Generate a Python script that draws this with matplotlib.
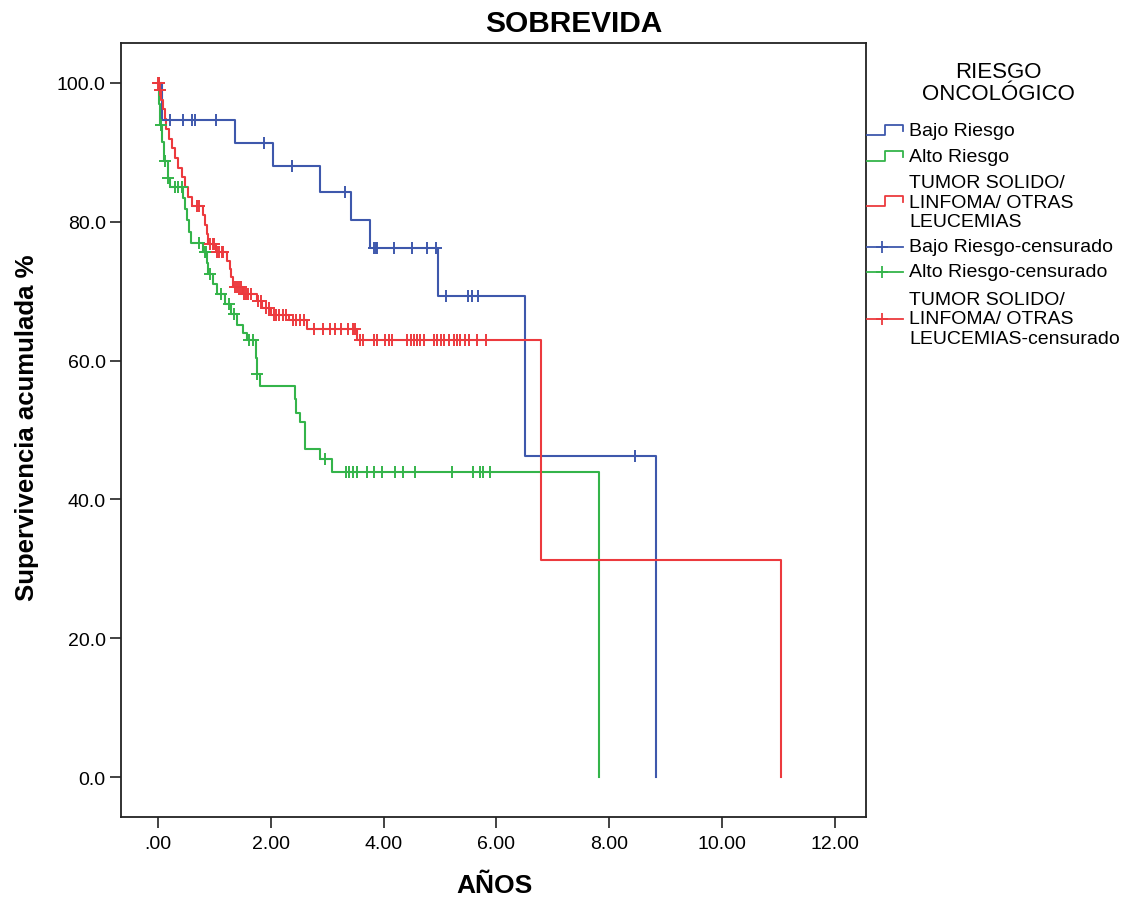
import numpy as np
import matplotlib
matplotlib.use('Agg')
import matplotlib.pyplot as plt
from matplotlib.lines import Line2D

plt.rcParams['font.family'] = ['Liberation Sans', 'DejaVu Sans']

# ---------------- data ----------------
title = 'SOBREVIDA'
x_label = 'AÑOS'
y_label = 'Supervivencia acumulada %'
legend_title = ['RIESGO', 'ONCOLÓGICO']
group_names = ['Bajo Riesgo', 'Alto Riesgo', 'TUMOR SOLIDO/\nLINFOMA/ OTRAS\nLEUCEMIAS']
censor_names = ['Bajo Riesgo-censurado', 'Alto Riesgo-censurado',
                'TUMOR SOLIDO/\nLINFOMA/ OTRAS\nLEUCEMIAS-censurado']

x_ticks = [0, 2, 4, 6, 8, 10, 12]
x_tick_labels = ['.00', '2.00', '4.00', '6.00', '8.00', '10.00', '12.00']
y_ticks = [0, 20, 40, 60, 80, 100]
y_tick_labels = ['0.0', '20.0', '40.0', '60.0', '80.0', '100.0']

# Bajo Riesgo
blue_times = [0.07, 1.36, 2.04, 2.88, 3.42, 3.76, 4.96, 6.50, 8.83]
blue_surv = [94.6, 91.3, 88.0, 84.3, 80.3, 76.2, 69.3, 46.2, 0.0]
blue_cens = [0.21, 0.45, 0.60, 0.66, 1.03, 1.88, 2.37, 3.32, 3.82, 3.86, 3.89,
             4.18, 4.51, 4.77, 4.92, 5.11, 5.49, 5.56, 5.68, 8.46]

# Alto Riesgo
green_times = [0.02, 0.04, 0.07, 0.10, 0.17, 0.22, 0.45, 0.48, 0.51, 0.55, 0.58,
               0.80, 0.86, 0.89, 0.98, 1.05, 1.18, 1.30, 1.40, 1.50, 1.58, 1.74,
               1.75, 1.80, 2.43, 2.44, 2.51, 2.60, 2.61, 2.88, 3.09, 7.82]
green_surv = [97.0, 94.0, 91.5, 88.8, 86.3, 85.0, 83.4, 81.8, 80.2, 78.6, 77.0,
              75.6, 74.1, 72.5, 71.0, 69.6, 68.2, 66.7, 65.2, 64.0, 63.0, 60.4,
              58.1, 56.4, 54.5, 52.5, 51.1, 49.2, 47.3, 45.8, 43.9, 0.0]
green_cens = [0.01, 0.05, 0.125, 0.18, 0.30, 0.36, 0.42, 0.72, 0.84, 0.85, 0.92,
              1.12, 1.26, 1.35, 1.62, 1.68, 1.76, 2.96, 3.34, 3.39, 3.46, 3.52,
              3.70, 3.82, 3.97, 4.20, 4.35, 4.56, 5.22, 5.59, 5.71, 5.76, 5.89]

# Tumor solido / linfoma / otras leucemias
red_times = [0.03, 0.06, 0.09, 0.12, 0.15, 0.20, 0.24, 0.30, 0.35, 0.42, 0.48,
             0.54, 0.60, 0.80, 0.83, 0.86, 0.89, 1.02, 1.22, 1.27, 1.30, 1.33,
             1.50, 1.75, 1.85, 2.00, 2.32, 2.64, 3.52, 6.79, 11.04]
red_surv = [99.0, 97.6, 96.2, 94.8, 93.4, 92.0, 90.6, 89.2, 87.8, 86.4, 85.0,
            83.6, 82.3, 81.0, 79.6, 78.2, 76.8, 75.6, 74.4, 73.2, 72.0, 70.6,
            69.6, 68.6, 67.6, 66.6, 65.8, 64.6, 62.9, 31.3, 0.0]
red_cens = [0.005, 0.015, 0.035, 0.69, 0.72, 0.93, 0.97, 1.00, 1.05, 1.09, 1.13,
            1.16, 1.37, 1.40, 1.43, 1.47, 1.52, 1.56, 1.60, 1.65, 1.78, 1.82,
            1.92, 1.96, 2.05, 2.10, 2.15, 2.22, 2.27, 2.40, 2.45, 2.52, 2.58,
            2.77, 2.92, 3.04, 3.13, 3.24, 3.36, 3.45, 3.50, 3.58, 3.64, 3.82,
            3.88, 4.03, 4.09, 4.15, 4.42, 4.48, 4.53, 4.59, 4.65, 4.71, 4.89,
            4.95, 5.01, 5.07, 5.16, 5.24, 5.30, 5.36, 5.45, 5.51, 5.66, 5.81]

colors = ['#3E58AC', '#34B44A', '#EC3A3E']

series = [(blue_times, blue_surv, blue_cens),
          (green_times, green_surv, green_cens),
          (red_times, red_surv, red_cens)]

# ---------------- figure ----------------
W, H = 1129, 904
fig = plt.figure(figsize=(W / 100, H / 100), dpi=100)
fig.patch.set_facecolor('white')

ax = fig.add_axes([121 / W, 86 / H, 745 / W, 774 / H])
ax.set_facecolor('none')

for (t, s, c), col in zip(series, colors):
    tt = np.concatenate([[0.0], t])
    ss = np.concatenate([[100.0], s])
    ax.step(tt, ss, where='post', color=col, lw=1.5, zorder=3)
    idx = np.searchsorted(tt, np.asarray(c), side='right') - 1
    ax.plot(c, ss[idx], linestyle='none', marker='+', markersize=8,
            markeredgewidth=1.4, color=col, zorder=4)

ax.set_xlim(-0.656, 12.55)
ax.set_ylim(-5.76, 105.76)
ax.set_xticks(x_ticks)
ax.set_xticklabels(x_tick_labels, fontsize=14)
ax.set_yticks(y_ticks)
ax.set_yticklabels(y_tick_labels, fontsize=14)
ax.tick_params(axis='both', direction='out', length=8, width=1.2, color='#222222')
ax.tick_params(axis='y', pad=3)
ax.tick_params(axis='x', pad=5)
for sp in ax.spines.values():
    sp.set_linewidth(1.3)
    sp.set_color('#222222')

fig.text(574 / W, 1 - 24 / H, title, ha='center', va='center',
         fontsize=21.5, fontweight='bold')
fig.text(494 / W, 1 - 886 / H, x_label, ha='center', va='center',
         fontsize=19, fontweight='bold')
fig.text(27 / W, 1 - 428 / H, y_label, ha='center', va='center',
         rotation=90, fontsize=18.5, fontweight='bold')

# ---------------- legend (outside, right) ----------------
lax = fig.add_axes([0, 0, 1, 1], zorder=5)
lax.set_xlim(0, W)
lax.set_ylim(H, 0)
lax.axis('off')
lax.patch.set_alpha(0)

lax.text(998, 72, legend_title[0], ha='center', va='center', fontsize=16)
lax.text(998, 95, legend_title[1], ha='center', va='center', fontsize=16)

text_x = 909
x0, xm, x1 = 867, 885, 903
step_rows = [132, 158, 203]
for yc, name, col in zip(step_rows, group_names, colors):
    lo, hi = yc + 4, yc - 6
    lax.add_line(Line2D([x0, xm, xm, x1, x1], [lo, lo, hi, hi, yc],
                        color=col, lw=1.3))
    lax.text(text_x, yc, name, ha='left', va='center', fontsize=14,
             linespacing=1.2)

cens_rows = [248, 273, 320]
for yc, name, col in zip(cens_rows, censor_names, colors):
    lax.add_line(Line2D([x0, x1], [yc, yc], color=col, lw=1.3))
    lax.add_line(Line2D([(x0 + x1) / 2 - 3], [yc], marker='+', markersize=9,
                        markeredgewidth=1.3, color=col))
    lax.text(text_x, yc, name, ha='left', va='center', fontsize=14,
             linespacing=1.2)

fig.savefig('out.png', dpi=100)
